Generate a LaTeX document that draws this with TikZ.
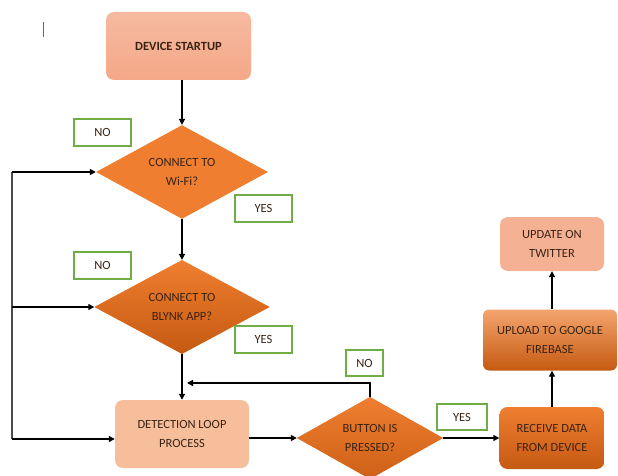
\documentclass[tikz,border=0pt]{standalone}
\usepackage{fontspec}
\setmainfont{Carlito}
\usetikzlibrary{shapes.geometric,arrows.meta}
\definecolor{txtbrown}{HTML}{3B2314}
\definecolor{greenline}{HTML}{70AD47}
\definecolor{peach}{HTML}{F4A888}
\definecolor{peachlight}{HTML}{F7BE9C}
\definecolor{darkorange}{HTML}{C55A11}
\definecolor{midorange}{HTML}{EF7E30}

\begin{document}
\begin{tikzpicture}[x=1pt, y=-1pt,
	 font=\fontsize{12.5}{19}\selectfont, text=txtbrown,
	 boxnode/.style={rectangle, rounded corners=8pt, align=center, inner sep=0pt},
	 decision/.style={diamond, align=center, inner sep=0pt, fill=midorange},
	 answer/.style={draw=greenline, line width=1.2pt, fill=white, inner sep=0pt,
	   minimum width=57pt, minimum height=27pt},
	 flow/.style={line width=1.4pt, -{Triangle[width=6pt,length=6pt]}},
	 loopline/.style={line width=1.2pt, draw=black!70}]
	    \clip (0,0) rectangle (618,476);
	    \fill[white] (0,0) rectangle (618,476);
	    \draw[black!60, line width=0.8pt] (43,22) -- (43,37);
	    % left column
	    \node (start) at (178.5,46) [boxnode, top color=peach!80!white, bottom color=peach,
	      minimum width=145pt, minimum height=68pt] {\textbf{DEVICE STARTUP}};
	    \node (wifi) at (182,172) [decision, minimum width=172pt, minimum height=87pt]
	      {CONNECT TO\\Wi-Fi?};
	    \node (blynk) at (182,307) [decision, top color=midorange, bottom color=darkorange,
	      minimum width=175pt, minimum height=87pt] {CONNECT TO\\BLYNK APP?};
	    \node (detect) at (182,434) [boxnode, fill=peachlight,
	      minimum width=134pt, minimum height=68pt] {DETECTION LOOP\\PROCESS};
	    % bottom row and right column
	    \node (button) at (370,438) [decision, top color=midorange, bottom color=darkorange!80!midorange,
	      minimum width=146pt, minimum height=80pt] {BUTTON IS\\PRESSED?};
	    \node (receive) at (552,438) [boxnode, top color=midorange, bottom color=darkorange,
	      minimum width=105pt, minimum height=62pt] {RECEIVE DATA\\FROM DEVICE};
	    \node (upload) at (550,340) [boxnode, rounded corners=6pt, top color=midorange!70!white,
	      bottom color=darkorange, minimum width=134pt, minimum height=61pt]
	      {UPLOAD TO GOOGLE\\FIREBASE};
	    \node (twitter) at (552,244) [boxnode, fill=peach!90!white,
	      minimum width=104pt, minimum height=54pt] {UPDATE ON\\TWITTER};
	    % answer labels
	    \node (no1) at (102.5,132.5) [answer] {NO};
	    \node (yes1) at (263.5,208.5) [answer] {YES};
	    \node (no2) at (102.5,265.5) [answer] {NO};
	    \node (yes2) at (263.5,339.5) [answer] {YES};
	    \node (no3) at (364.5,363) [answer, minimum width=37pt, minimum height=26pt] {NO};
	    \node (yes3) at (462,417) [answer, minimum width=50pt, minimum height=26pt] {YES};
	    % connectors
	    \draw[flow] (start.south -| wifi.north) -- (wifi.north);
	    \draw[flow] (wifi.south) -- (blynk.north);
	    \draw[flow] (blynk.south) -- (detect.north);
	    \draw[flow] (detect.east |- button.west) -- (button.west);
	    \draw[flow] (button.east) -- (receive.west);
	    \draw[flow] (receive.north) -- (upload.south -| receive.north);
	    \draw[flow] (upload.north -| twitter.south) -- (twitter.south);
	    \coordinate (noend) at (187,383);
	    \draw[flow] (button.north) |- (noend);
	    \coordinate (looptop) at (12,172);
	    \coordinate (loopbottom) at (12,439);
	    \draw[loopline] (looptop) -- (loopbottom);
	    \draw[flow] (looptop) -- (wifi.west);
	    \draw[flow] (looptop |- blynk.west) -- (blynk.west);
	    \draw[flow] (loopbottom) -- (detect.west |- loopbottom);
\end{tikzpicture}
\end{document}
